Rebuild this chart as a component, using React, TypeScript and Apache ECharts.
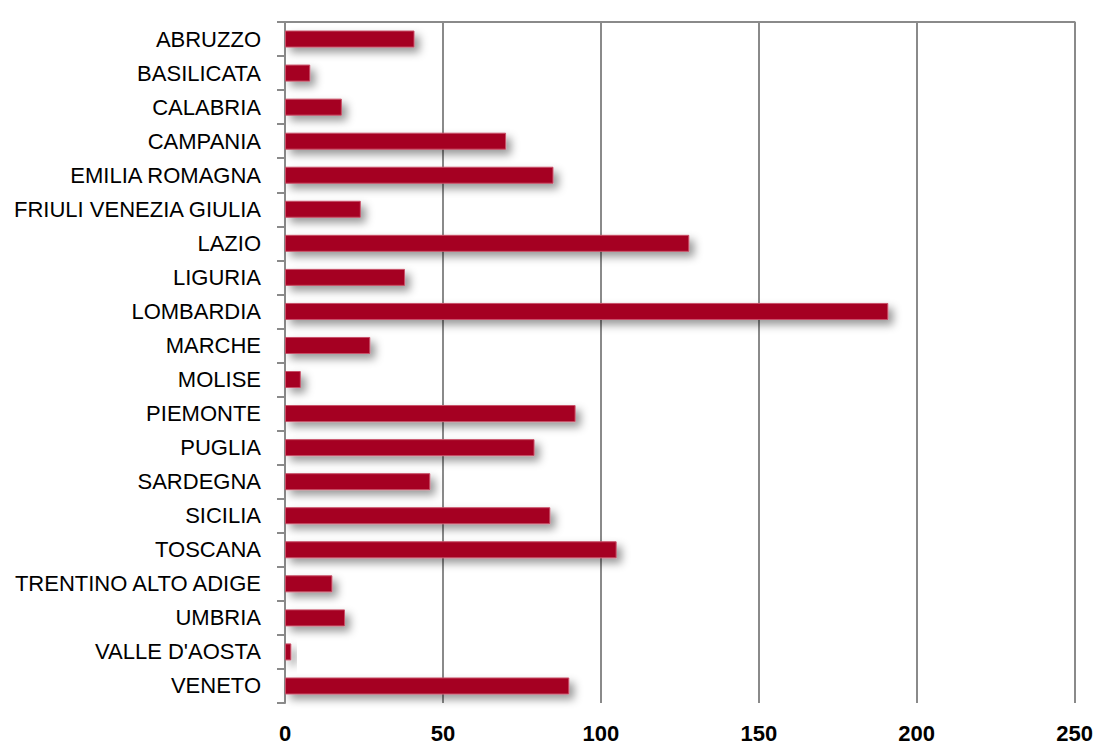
import React, { useEffect, useRef } from "react";
import * as echarts from "echarts";

const regions = [
  "ABRUZZO",
  "BASILICATA",
  "CALABRIA",
  "CAMPANIA",
  "EMILIA ROMAGNA",
  "FRIULI VENEZIA GIULIA",
  "LAZIO",
  "LIGURIA",
  "LOMBARDIA",
  "MARCHE",
  "MOLISE",
  "PIEMONTE",
  "PUGLIA",
  "SARDEGNA",
  "SICILIA",
  "TOSCANA",
  "TRENTINO ALTO ADIGE",
  "UMBRIA",
  "VALLE D'AOSTA",
  "VENETO",
];

const values = [41, 8, 18, 70, 85, 24, 128, 38, 191, 27, 5, 92, 79, 46, 84, 105, 15, 19, 2, 90];

const xMin = 0;
const xMax = 250;
const xInterval = 50;

const FONT = "'Liberation Sans', Arial, sans-serif";
const GRID = "#8a8a8a";

export default function App() {
  const ref = useRef<HTMLDivElement>(null);

  useEffect(() => {
    if (!ref.current) return;
    const chart = echarts.init(ref.current, undefined, { renderer: "svg" });
    chart.setOption({
      animation: false,
      backgroundColor: "#ffffff",
      grid: { left: 285, right: 21, top: 22, bottom: 44, containLabel: false },
      xAxis: [
        {
          type: "value",
          min: xMin,
          max: xMax,
          interval: xInterval,
          position: "bottom",
          axisLine: { show: false },
          axisTick: { show: false },
          splitLine: { show: true, lineStyle: { color: GRID, width: 2 } },
          axisLabel: {
            margin: 19,
            color: "#000",
            fontFamily: FONT,
            fontWeight: "bold",
            fontSize: 22,
          },
        },
        {
          type: "value",
          min: xMin,
          max: xMax,
          interval: xInterval,
          position: "top",
          axisLine: { show: true, lineStyle: { color: GRID, width: 2 } },
          axisTick: { show: false },
          splitLine: { show: false },
          axisLabel: { show: false },
        },
      ],
      yAxis: {
        type: "category",
        data: regions,
        inverse: true,
        axisLine: { show: true, lineStyle: { color: GRID, width: 2 } },
        axisTick: { show: true, length: 8, lineStyle: { color: GRID, width: 2 } },
        axisLabel: {
          margin: 24,
          color: "#000",
          fontFamily: FONT,
          fontSize: 22,
        },
        splitLine: { show: false },
      },
      series: [
        {
          type: "bar",
          xAxisIndex: 0,
          data: values,
          barWidth: 17,
          itemStyle: {
            color: "#A50021",
            borderColor: "#c85068",
            borderWidth: 1,
            shadowColor: "rgba(0,0,0,0.4)",
            shadowBlur: 8,
            shadowOffsetX: 5,
            shadowOffsetY: 5,
          },
        },
      ],
    });
    return () => chart.dispose();
  }, []);

  return (
    <div
      ref={ref}
      style={{ position: "fixed", left: 0, top: 0, width: 1096, height: 747, background: "#fff" }}
    />
  );
}
